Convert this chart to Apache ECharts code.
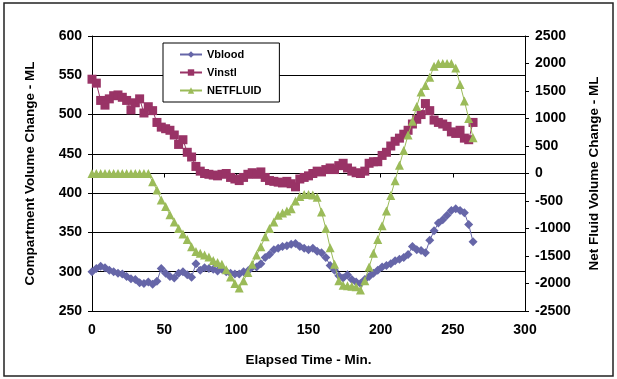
<!DOCTYPE html>
<html>
<head>
<meta charset="utf-8">
<script src="https://cdn.jsdelivr.net/npm/echarts@6/dist/echarts.min.js"></script>
<style>html,body{margin:0;padding:0;background:#fff}#c{width:617px;height:379px}</style>
</head>
<body>
<div id="c"></div>
<script>
const times = [0,3,6,9,12,15,18,21,24,27,30,33,36,39,42,45,48,51,54,57,60,63,66,69,72,75,78,81,84,87,90,93,96,99,102,105,108,111,114,117,120,123,126,129,132,135,138,141,144,147,150,153,156,159,162,165,168,171,174,177,180,183,186,189,192,195,198,201,204,207,210,213,216,219,222,225,228,231,234,237,240,243,246,249,252,255,258,261,264];
const vblood = [300,304,307,305,302,300,298,297,294,291,
290,286,285,287,284,288,304,298,294,292,
298,300,296,293,310,302,305,304,303,301,
303,300,298,297,297,300,301,306,306,310,
318,322,328,330,332,333,335,336,332,330,
328,330,326,324,318,308,302,295,292,296,
290,287,285,290,294,298,302,306,308,310,
314,316,318,322,332,328,327,324,340,352,
362,366,372,378,380,378,375,360,338];
const vinstl = [545,540,518,512,520,524,525,522,518,506,
515,520,502,510,505,490,484,482,480,474,
462,468,452,446,434,428,425,424,423,422,
424,425,420,418,416,420,424,426,424,427,
420,416,415,414,413,415,412,408,418,420,
422,425,428,427,430,432,430,435,438,432,
428,426,425,428,438,440,440,448,452,460,
466,470,475,480,488,494,500,514,505,493,
490,488,485,478,476,480,470,468,490];
const netfluid = [0,0,0,0,0,0,0,0,0,0,
0,0,0,0,-150,-300,-480,-600,-750,-880,
-1000,-1100,-1200,-1330,-1420,-1450,-1480,-1520,-1580,-1620,
-1650,-1750,-1880,-2000,-2080,-1950,-1800,-1650,-1480,-1330,
-1150,-1000,-880,-760,-720,-680,-640,-500,-420,-380,
-380,-390,-430,-700,-1000,-1350,-1650,-1950,-2030,-2040,
-2050,-2060,-2120,-1950,-1700,-1450,-1200,-950,-680,-400,
-130,150,420,700,950,1220,1480,1600,1750,1950,
2000,2000,2000,2000,1920,1620,1320,1000,650];
const xTitle = 'Elapsed Time - Min.';
const yLeftTitle = 'Compartment Volume Change - ML';
const yRightTitle = 'Net Fluid Volume Change - ML';

const pair = (ys) => times.map((t, i) => [t, ys[i]]);
const FONT = '"Liberation Sans", Arial, sans-serif';
const lbl = {color:'#000', fontFamily:FONT, fontWeight:'bold', fontSize:14, formatter:(v)=>String(v)};
const nameStyle = {color:'#000', fontFamily:FONT, fontWeight:'bold', fontSize:13.5};

const chart = echarts.init(document.getElementById('c'), null, {renderer:'canvas'});
chart.setOption({
  animation:false,
  backgroundColor:'#fff',
  grid:{left:92, right:92, top:36, bottom:68},
  graphic:[{type:'rect', shape:{x:4, y:3, width:609, height:373}, style:{fill:'none', stroke:'#222', lineWidth:1.5}, silent:true}],
  legend:{
    orient:'vertical', left:163, top:43,
    backgroundColor:'#fff', borderColor:'#000', borderWidth:1,
    padding:[6,18,6,16], itemGap:7, itemWidth:22, itemHeight:8,
    textStyle:{color:'#000', fontFamily:FONT, fontWeight:'bold', fontSize:11},
    data:['Vblood','Vinstl','NETFLUID']
  },
  xAxis:{
    type:'value', min:0, max:300, interval:50,
    name:xTitle, nameLocation:'middle', nameGap:42, nameTextStyle:nameStyle,
    axisLine:{lineStyle:{color:'#000', width:1}},
    axisTick:{show:true, inside:false, length:4, lineStyle:{color:'#000'}},
    axisLabel:Object.assign({margin:12}, lbl),
    splitLine:{show:false}
  },
  yAxis:[{
    type:'value', min:250, max:600, interval:50, position:'left',
    name:yLeftTitle, nameLocation:'middle', nameGap:55, nameTextStyle:nameStyle,
    axisLine:{show:true, lineStyle:{color:'#000', width:1}},
    axisTick:{show:true, length:4, lineStyle:{color:'#000'}},
    axisLabel:Object.assign({margin:10}, lbl),
    splitLine:{show:true, lineStyle:{color:'#000', width:1}}
  },{
    type:'value', min:-2500, max:2500, interval:500, position:'right',
    name:yRightTitle, nameLocation:'middle', nameGap:62, nameRotate:90, nameTextStyle:nameStyle,
    axisLine:{show:true, lineStyle:{color:'#000', width:1}},
    axisTick:{show:true, length:4, lineStyle:{color:'#000'}},
    axisLabel:Object.assign({margin:10}, lbl),
    splitLine:{show:false}
  }],
  series:[
    {name:'Vblood', type:'line', yAxisIndex:0, data:pair(vblood), symbol:'diamond', symbolSize:9,
     itemStyle:{color:'#6666a8'}, lineStyle:{color:'#6666a8', width:1}, z:2},
    {name:'Vinstl', type:'line', yAxisIndex:0, data:pair(vinstl), symbol:'rect', symbolSize:9,
     itemStyle:{color:'#993366'}, lineStyle:{color:'#993366', width:1}, z:3},
    {name:'NETFLUID', type:'line', yAxisIndex:1, data:pair(netfluid), symbol:'triangle', symbolSize:9,
     itemStyle:{color:'#9bbb59'}, lineStyle:{color:'#9bbb59', width:1}, z:4}
  ]
});
</script>
</body>
</html>
